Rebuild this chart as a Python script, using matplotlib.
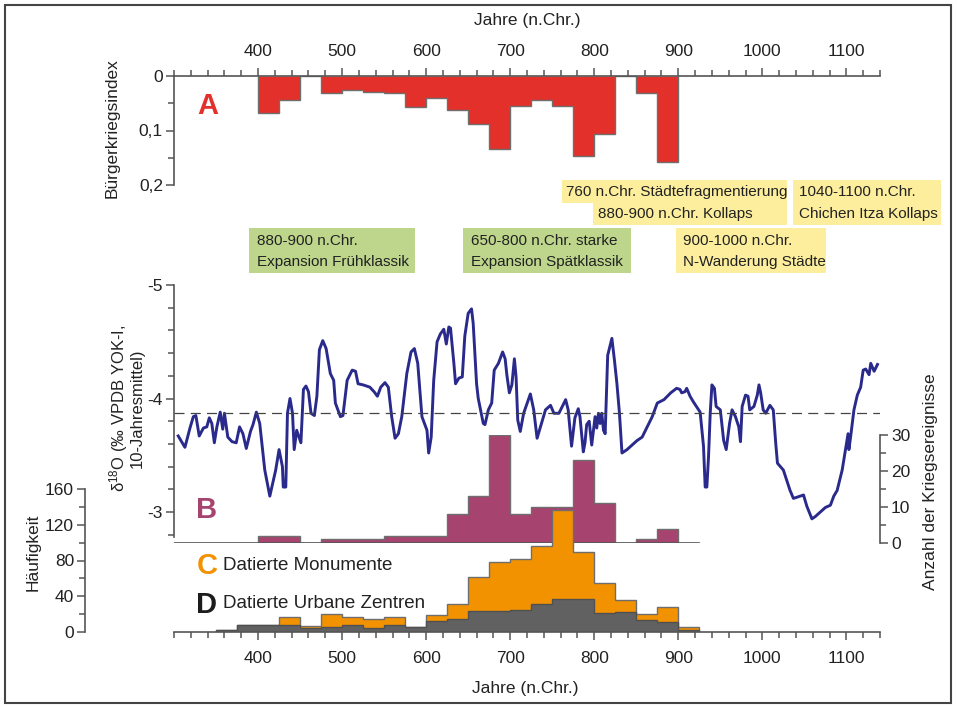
import numpy as np
import matplotlib
matplotlib.use("Agg")
import matplotlib.pyplot as plt
from matplotlib.patches import Rectangle
from matplotlib.ticker import MultipleLocator, FixedLocator

plt.rcParams['font.family'] = ['Liberation Sans', 'DejaVu Sans']
plt.rcParams['axes.unicode_minus'] = False

# A: Buergerkriegsindex, 25-year bins 400..900
edges_a = np.arange(400, 901, 25)
civil_war = [0.068, 0.044, 0, 0.032, 0.026, 0.029, 0.032, 0.057, 0.041, 0.062,
             0.088, 0.134, 0.055, 0.044, 0.055, 0.146, 0.106, 0, 0.032, 0.158]

# B: Kriegsereignisse, 25-year bins 400..900
edges_b = np.arange(400, 901, 25)
war_events = [2, 2, 0, 1, 1, 1, 2, 2, 2, 8, 13, 30, 8, 10, 10, 23, 11, 0, 1, 4]

# C / D: Monumente und urbane Zentren, 25-year bins 350..925
edges_cd = np.arange(350, 926, 25)
monuments = [2, 8, 8, 17, 7, 20, 17, 14, 17, 6, 19, 31, 62, 78, 82, 96, 137, 90, 55, 36, 20, 28, 6]
centers = [2, 8, 8, 8, 5, 6, 8, 5, 8, 6, 12, 14, 23, 23, 25, 31, 37, 37, 21, 22, 13, 11, 2]

# delta 18O record (10-year means)
d18o_year = [305, 313, 319, 323, 326, 330, 335, 339, 342, 345, 348, 351, 355, 358, 360, 364, 369, 374,
             378, 382, 386, 391, 394, 398, 402, 408, 414, 421, 425, 429, 430, 433, 435, 438, 441, 443,
             446, 451, 454, 457, 460, 463, 467, 470, 473, 477, 481, 486, 490, 492, 498, 501, 506, 512,
             516, 519, 525, 533, 538, 542, 546, 551, 555, 559, 563, 567, 571, 577, 582, 586, 590, 595,
             601, 603, 606, 609, 613, 617, 621, 624, 627, 629, 633, 635, 639, 643, 646, 650, 654, 656,
             660, 662, 668, 670, 674, 678, 681, 686, 691, 694, 696, 699, 702, 705, 707, 709, 712, 716,
             724, 728, 732, 736, 738, 742, 748, 752, 758, 762, 766, 769, 773, 777, 781, 783, 787, 789,
             791, 794, 797, 801, 803, 805, 807, 809, 811, 813, 816, 821, 824, 827, 830, 833, 839, 845,
             851, 857, 863, 869, 875, 883, 891, 898, 902, 904, 908, 910, 914, 918, 926, 930, 932, 934,
             936, 938, 940, 943, 945, 950, 954, 957, 961, 964, 968, 972, 974, 976, 980, 983, 985, 990,
             994, 996, 998, 1001, 1004, 1009, 1013, 1016, 1018, 1025, 1033, 1037, 1045, 1049, 1053, 1059,
             1063, 1069, 1075, 1081, 1085, 1089, 1095, 1099, 1102, 1103, 1105, 1109, 1113, 1117, 1120,
             1123, 1127, 1129, 1133, 1137]
d18o_val = [-3.67, -3.57, -3.74, -3.84, -3.85, -3.67, -3.74, -3.75, -3.83, -3.78, -3.61, -3.75, -3.88, -3.73,
            -3.87, -3.66, -3.62, -3.61, -3.75, -3.69, -3.56, -3.71, -3.77, -3.88, -3.78, -3.37, -3.14, -3.37,
            -3.55, -3.40, -3.22, -3.22, -3.87, -4.00, -3.87, -3.55, -3.72, -3.61, -4.08, -4.11, -4.06, -3.87,
            -3.85, -4.02, -4.43, -4.51, -4.44, -4.22, -4.16, -3.96, -3.84, -3.85, -4.16, -4.25, -4.24, -4.13,
            -4.12, -4.10, -4.06, -4.02, -4.10, -4.14, -4.10, -3.84, -3.65, -3.69, -3.84, -4.22, -4.41, -4.44,
            -4.31, -3.84, -3.72, -3.52, -3.66, -4.16, -4.50, -4.57, -4.61, -4.48, -4.63, -4.62, -4.31, -4.13,
            -4.18, -4.19, -4.55, -4.75, -4.79, -4.66, -4.13, -4.00, -3.78, -3.77, -3.90, -3.96, -4.25, -4.31,
            -4.41, -4.35, -4.21, -4.05, -4.12, -4.35, -4.19, -3.81, -3.71, -3.87, -4.04, -3.90, -3.65, -3.75,
            -3.80, -3.90, -3.94, -3.87, -3.87, -3.93, -3.99, -3.90, -3.58, -3.83, -3.91, -3.84, -3.53, -3.61,
            -3.77, -3.80, -3.59, -3.84, -3.74, -3.87, -3.78, -3.87, -3.72, -3.69, -4.38, -4.53, -4.34, -4.13,
            -3.87, -3.52, -3.55, -3.59, -3.63, -3.66, -3.75, -3.84, -3.96, -3.99, -4.05, -4.09, -4.08, -4.05,
            -4.06, -4.09, -4.02, -3.97, -3.88, -3.58, -3.22, -3.22, -3.49, -3.87, -4.12, -4.09, -3.93, -3.90,
            -3.63, -3.55, -3.78, -3.90, -3.84, -3.75, -3.62, -3.93, -4.03, -4.02, -3.90, -3.93, -4.03, -4.12,
            -4.05, -3.90, -3.87, -3.94, -3.90, -3.60, -3.43, -3.37, -3.19, -3.12, -3.14, -3.15, -3.05, -2.94,
            -2.96, -3.00, -3.04, -3.06, -3.14, -3.19, -3.37, -3.55, -3.69, -3.55, -3.66, -3.90, -4.03, -4.10,
            -4.25, -4.26, -4.21, -4.31, -4.24, -4.30]
d18o_mean = -3.87

year_ticks = list(range(400, 1101, 100))

W, H = 957, 707
fig = plt.figure(figsize=(W / 100, H / 100), dpi=100, facecolor='white')

def box(l, t, r, b):
    return [l / W, 1 - b / H, (r - l) / W, (b - t) / H]

def fx(x):
    return x / W

def fy(y):
    return 1 - y / H

spine_c = '#555555'
txt_c = '#222222'
red = '#e3302a'
purple = '#a6446f'
orange = '#f39200'
grey = '#616161'
navy = '#2a2a8c'
edge = '#6e6e6e'

def style(ax, sides):
    ax.patch.set_visible(False)
    for s in ['top', 'bottom', 'left', 'right']:
        ax.spines[s].set_visible(s in sides)
        ax.spines[s].set_color(spine_c)
        ax.spines[s].set_linewidth(1.2)
    ax.tick_params(which='both', colors=spine_c, labelcolor=txt_c, labelsize=12.5, width=1.1)
    ax.tick_params(which='major', length=6)
    ax.tick_params(which='minor', length=4.5)

# ---- panel A
axA = fig.add_axes(box(174, 76, 880, 185))
style(axA, ['top', 'left'])
axA.stairs(civil_war, edges_a, baseline=0, fill=True, facecolor=red, edgecolor=edge, lw=1)
axA.set_xlim(300, 1140)
axA.set_ylim(0.2, 0)
axA.xaxis.tick_top()
axA.xaxis.set_major_locator(FixedLocator(year_ticks))
axA.xaxis.set_minor_locator(MultipleLocator(20))
axA.tick_params(axis='x', which='major', pad=6)
axA.set_yticks([0, 0.1, 0.2])
axA.set_yticklabels(['0', '0,1', '0,2'])
axA.yaxis.set_minor_locator(FixedLocator([0.05, 0.15]))
axA.tick_params(axis='y', pad=2)

# ---- war events (B bars)
axK = fig.add_axes(box(174, 435, 880, 543))
style(axK, ['right'])
axK.stairs(war_events, edges_b, baseline=0, fill=True, facecolor=purple, edgecolor=edge, lw=1)
axK.axhline(0, xmin=0, xmax=(925 - 300) / 840, color=spine_c, lw=1.2)
axK.set_xlim(300, 1140)
axK.set_ylim(0, 30)
axK.set_xticks([])
axK.yaxis.tick_right()
axK.set_yticks([0, 10, 20, 30])
axK.yaxis.set_minor_locator(MultipleLocator(5))
axK.tick_params(axis='y', pad=2)

# ---- C / D histograms
axH = fig.add_axes(box(174, 489, 880, 632))
style(axH, ['bottom', 'left'])
axH.spines['left'].set_position(('outward', 64))
axH.stairs(monuments, edges_cd, baseline=0, fill=True, facecolor=orange, edgecolor=edge, lw=1)
axH.stairs(centers, edges_cd, baseline=0, fill=True, facecolor=grey, edgecolor='#505050', lw=1)
axH.set_xlim(300, 1140)
axH.set_ylim(0, 160)
axH.xaxis.set_major_locator(FixedLocator(year_ticks))
axH.xaxis.set_minor_locator(MultipleLocator(20))
axH.tick_params(axis='x', which='major', pad=8)
axH.set_yticks([0, 40, 80, 120, 160])
axH.yaxis.set_minor_locator(MultipleLocator(20))
axH.tick_params(axis='y', pad=2)

# ---- delta 18O line
axB = fig.add_axes(box(174, 285, 880, 537))
style(axB, ['left'])
axB.plot(d18o_year, d18o_val, color=navy, lw=2.1, solid_joinstyle='round')
axB.axhline(d18o_mean, color='#444444', lw=0.9, dashes=(8, 5))
axB.set_xlim(300, 1140)
axB.set_ylim(-2.78, -5)
axB.set_xticks([])
axB.set_yticks([-5, -4, -3])
axB.yaxis.set_minor_locator(MultipleLocator(0.2))
axB.tick_params(axis='y', pad=2)

# ---- texts
fig.text(fx(527), fy(20), 'Jahre (n.Chr.)', fontsize=12.5, ha='center', va='center', color=txt_c)
fig.text(fx(525), fy(688), 'Jahre (n.Chr.)', fontsize=12.5, ha='center', va='center', color=txt_c)
fig.text(fx(112), fy(128), 'Bürgerkriegsindex', fontsize=12.5, rotation=90, ha='center', va='center', color=txt_c)
fig.text(fx(126), fy(408), '$\\mathregular{\\delta^{18}}$O (‰ VPDB YOK-I,\n10-Jahresmittel)', fontsize=12,
         rotation=90, ha='center', va='center', multialignment='center', linespacing=1.0, color=txt_c)
fig.text(fx(33), fy(552), 'Häufigkeit', fontsize=12.5, rotation=90, ha='center', va='center', color=txt_c)
fig.text(fx(930), fy(482), 'Anzahl der Kriegsereignisse', fontsize=12.5, rotation=90, ha='center', va='center',
         color=txt_c)

big = dict(fontsize=21, fontweight='bold', ha='center', va='center')
fig.text(fx(208), fy(106), 'A', color=red, **big)
fig.text(fx(207), fy(510), 'B', color=purple, **big)
fig.text(fx(207), fy(566), 'C', color=orange, **big)
fig.text(fx(207), fy(605), 'D', color='#1c1c1c', **big)
fig.text(fx(223), fy(565), 'Datierte Monumente', fontsize=13.5, ha='left', va='center', color=txt_c)
fig.text(fx(223), fy(604), 'Datierte Urbane Zentren', fontsize=13.5, ha='left', va='center', color=txt_c)

green_c = '#bdd68c'
yellow_c = '#fcee9c'

def label_box(l, t, r, b, color):
    fig.add_artist(Rectangle((fx(l), fy(b)), (r - l) / W, (b - t) / H, transform=fig.transFigure,
                             facecolor=color, edgecolor='none', zorder=0))

def label_text(x, y, s):
    fig.text(fx(x), fy(y), s, fontsize=11, ha='left', va='center', color=txt_c)

label_box(249, 228, 415, 273, green_c)
label_text(257, 241, '880-900 n.Chr.')
label_text(257, 262, 'Expansion Frühklassik')
label_box(463, 228, 631, 273, green_c)
label_text(471, 241, '650-800 n.Chr. starke')
label_text(471, 262, 'Expansion Spätklassik')

label_box(562, 180, 787, 203, yellow_c)
label_box(593, 203, 787, 225, yellow_c)
label_text(566, 192, '760 n.Chr. Städtefragmentierung')
label_text(598, 214, '880-900 n.Chr. Kollaps')
label_box(793, 180, 941, 225, yellow_c)
label_text(799, 192, '1040-1100 n.Chr.')
label_text(799, 214, 'Chichen Itza Kollaps')
label_box(676, 228, 826, 273, yellow_c)
label_text(683, 241, '900-1000 n.Chr.')
label_text(683, 262, 'N-Wanderung Städte')

# outer frame
fig.add_artist(Rectangle((fx(5), fy(703)), 946 / W, 698 / H, transform=fig.transFigure,
                         facecolor='none', edgecolor='#444444', lw=1.5))

fig.savefig('out.png', dpi=100, facecolor='white')
